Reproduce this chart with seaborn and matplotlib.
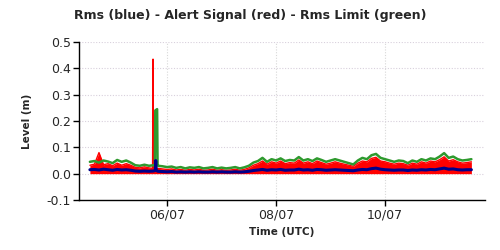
import numpy as np
import pandas as pd
import matplotlib
matplotlib.use("Agg")
import matplotlib.pyplot as plt
import seaborn as sns

# ---- data (hours since 2023-07-04 00:00 UTC) ----
hours = list(range(14, 184, 2))  # 85 samples

green = [
    0.045, 0.048, 0.042, 0.050, 0.046, 0.040, 0.052, 0.045, 0.050, 0.042,   # 14-32
    0.032, 0.030, 0.034, 0.030,                                             # 34-40
    0.032, 0.030, 0.028, 0.025, 0.027, 0.022, 0.025, 0.020, 0.024, 0.022,   # 42-60
    0.025, 0.020, 0.022, 0.025, 0.020, 0.023, 0.020, 0.022, 0.025, 0.020,   # 62-80
    0.024, 0.030, 0.042, 0.048, 0.060, 0.045, 0.055, 0.050, 0.058, 0.048,   # 82-100
    0.052, 0.050, 0.063, 0.050, 0.055, 0.048, 0.058, 0.052, 0.045, 0.050,   # 102-120
    0.055, 0.050, 0.045, 0.040, 0.035, 0.050, 0.060, 0.055, 0.070, 0.075,   # 122-140
    0.060, 0.055, 0.050, 0.045, 0.050, 0.048, 0.040, 0.050, 0.045, 0.055,   # 142-160
    0.050, 0.058, 0.055, 0.065, 0.078, 0.060, 0.065, 0.055, 0.050, 0.052,   # 162-180
    0.055,                                                                  # 182
]
red = [
    0.032, 0.036, 0.080, 0.034, 0.038, 0.030, 0.040, 0.032, 0.038, 0.032,
    0.024, 0.022, 0.026, 0.022,
    0.022, 0.020, 0.018, 0.016, 0.018, 0.014, 0.016, 0.013, 0.016, 0.014,
    0.017, 0.013, 0.014, 0.017, 0.013, 0.015, 0.013, 0.014, 0.017, 0.013,
    0.016, 0.022, 0.032, 0.038, 0.048, 0.036, 0.045, 0.040, 0.048, 0.038,
    0.042, 0.040, 0.052, 0.040, 0.045, 0.038, 0.048, 0.042, 0.036, 0.040,
    0.045, 0.040, 0.036, 0.032, 0.028, 0.040, 0.048, 0.045, 0.058, 0.062,
    0.048, 0.045, 0.040, 0.036, 0.040, 0.038, 0.032, 0.040, 0.036, 0.045,
    0.040, 0.048, 0.045, 0.053, 0.064, 0.048, 0.053, 0.045, 0.040, 0.042,
    0.045,
]
blue = [
    0.015, 0.016, 0.014, 0.017, 0.015, 0.013, 0.016, 0.014, 0.015, 0.013,
    0.010, 0.009, 0.010, 0.009,
    0.010, 0.009, 0.008, 0.007, 0.008, 0.006, 0.007, 0.006, 0.007, 0.006,
    0.007, 0.006, 0.006, 0.007, 0.006, 0.007, 0.006, 0.006, 0.007, 0.006,
    0.007, 0.009, 0.012, 0.014, 0.016, 0.013, 0.015, 0.014, 0.016, 0.013,
    0.014, 0.014, 0.017, 0.014, 0.015, 0.013, 0.016, 0.015, 0.013, 0.014,
    0.015, 0.014, 0.013, 0.012, 0.011, 0.014, 0.016, 0.015, 0.019, 0.021,
    0.017, 0.015, 0.014, 0.013, 0.014, 0.014, 0.012, 0.014, 0.013, 0.015,
    0.014, 0.016, 0.015, 0.018, 0.021, 0.017, 0.018, 0.015, 0.014, 0.015,
    0.015,
]

# short events around the 5 July spike
red_spike_hours = [41.6, 41.8, 42.0]
red_spike_vals = [0.020, 0.435, 0.020]
green_spike_hours = [42.6, 42.8, 43.6, 43.8]
green_spike_vals = [0.030, 0.240, 0.245, 0.032]
blue_spike_hours = [42.8, 43.0, 43.2]
blue_spike_vals = [0.012, 0.050, 0.012]

tick_days = ["2023-07-06", "2023-07-08", "2023-07-10"]
tick_labels = ["06/07", "08/07", "10/07"]
y_ticks = [-0.1, 0.0, 0.1, 0.2, 0.3, 0.4, 0.5]

start = pd.Timestamp("2023-07-04")


def series(h, v, sh, sv):
    df = pd.DataFrame({"h": list(h) + list(sh), "v": list(v) + list(sv)})
    df = df.sort_values("h").reset_index(drop=True)
    df["t"] = start + pd.to_timedelta(df["h"], unit="h")
    return df


g_df = series(hours, green, green_spike_hours, green_spike_vals)
r_df = series(hours, red, red_spike_hours, red_spike_vals)
b_df = series(hours, blue, blue_spike_hours, blue_spike_vals)

sns.set_style("white")
plt.rcParams["font.family"] = ["DejaVu Sans"]

fig = plt.figure(figsize=(5, 2.5), dpi=100)
ax = fig.add_axes([0.158, 0.2, 0.812, 0.632])

ax.fill_between(r_df["t"], 0, r_df["v"], color="#ff0000", linewidth=0, zorder=2)
sns.lineplot(data=r_df, x="t", y="v", ax=ax, color="#ff0000", linewidth=1.0,
             estimator=None, sort=False, zorder=3)
sns.lineplot(data=g_df, x="t", y="v", ax=ax, color="#2e9a2e", linewidth=1.8,
             estimator=None, sort=False, zorder=4)
sns.lineplot(data=b_df, x="t", y="v", ax=ax, color="#00008b", linewidth=2.2,
             estimator=None, sort=False, zorder=5)

ax.set_xlim(start + pd.Timedelta(hours=9.2), start + pd.Timedelta(hours=188))
ax.set_ylim(-0.1, 0.5)
ax.set_yticks(y_ticks)
ax.set_yticklabels([f"{v:.1f}" for v in y_ticks], fontsize=9)
ax.set_xticks(pd.to_datetime(tick_days))
ax.set_xticklabels(tick_labels, fontsize=9)

for y in [0.0, 0.1, 0.2, 0.3, 0.4, 0.5]:
    ax.axhline(y, color="#d8d0dc", linestyle=(0, (1, 1.5)), linewidth=0.8, zorder=1)
for d in tick_days:
    ax.axvline(pd.Timestamp(d), color="#d8d8d8", linestyle=(0, (1, 1.5)), linewidth=0.8, zorder=1)

for s in ["top", "right"]:
    ax.spines[s].set_visible(False)
for s in ["left", "bottom"]:
    ax.spines[s].set_color("black")
    ax.spines[s].set_linewidth(1.0)
ax.tick_params(axis="both", direction="out", length=4, width=1, color="black",
               left=True, bottom=True, pad=2)

ax.set_xlabel("Time (UTC)", fontsize=7.5, fontweight="bold", labelpad=4)
ax.set_ylabel("Level (m)", fontsize=7.5, fontweight="bold", labelpad=10)
fig.suptitle("Rms (blue) - Alert Signal (red) - Rms Limit (green)",
             fontsize=9, fontweight="bold", x=0.5, y=0.962)

fig.savefig("out.png", dpi=100)
